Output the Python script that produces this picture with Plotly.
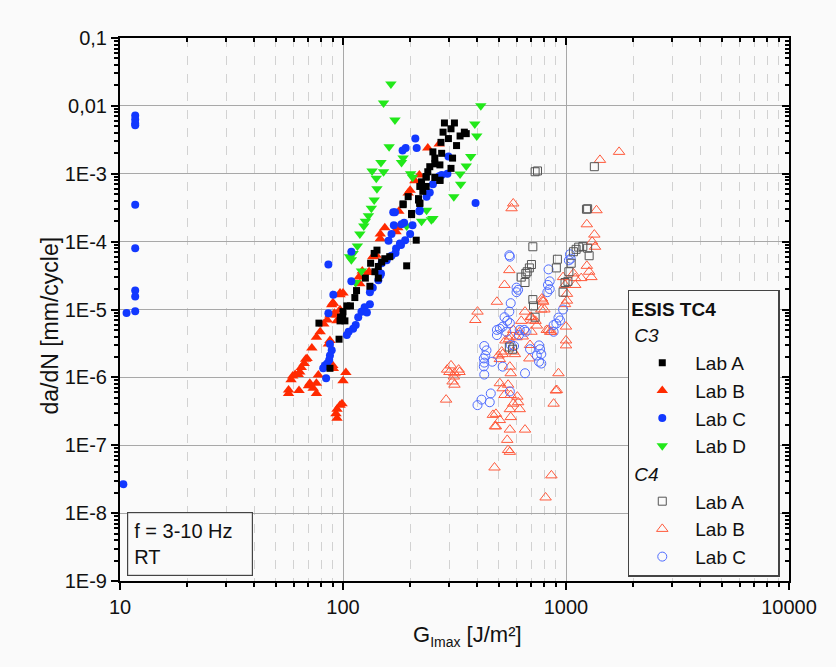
import plotly.graph_objects as go

# ---------------- data (G_Imax [J/m2], da/dN [mm/cycle]) ----------------
c3_labA_G = [285, 316, 305, 281, 350, 357, 335, 297, 275, 323, 253, 277, 258, 310, 258, 272, 245, 305,
             240, 236, 258, 272, 225, 221, 236, 196, 218, 221, 186, 203, 213, 193, 142, 138, 162, 154,
             149, 144, 133, 139, 144, 126, 132, 115, 113, 108, 104, 100, 97.5, 78, 96, 87.4, 99.7, 97,
             228, 218, 221, 203, 186, 236, 272, 102]
c3_labA_dadn = [5.6e-3, 5.6e-3, 4.6e-3, 4.1e-3, 4.1e-3, 3.9e-3, 3.6e-3, 3.3e-3, 2.9e-3, 2.6e-3, 2.1e-3,
                2.0e-3, 1.7e-3, 1.7e-3, 1.4e-3, 1.35e-3, 1.27e-3, 1.2e-3, 1.07e-3, 9.1e-4, 8.8e-4, 8.0e-4,
                7.6e-4, 6.5e-4, 6.5e-4, 4.6e-4, 4.1e-4, 3.65e-4, 3.5e-4, 2.6e-4, 1.05e-4, 4.4e-5, 7.5e-5,
                6.7e-5, 6.0e-5, 5.6e-5, 5.0e-5, 4.3e-5, 4.8e-5, 3.6e-5, 2.9e-5, 2.9e-5, 2.2e-5, 1.9e-5,
                1.5e-5, 1.13e-5, 1.13e-5, 9.3e-6, 7.7e-6, 6.3e-6, 3.65e-6, 1.36e-6, 7.4e-6, 6.8e-6,
                5.5e-4, 4.3e-4, 3.7e-4, 2.5e-4, 3.6e-4, 8.9e-4, 8.0e-4, 6.8e-6]

c3_labB_G = [57, 57, 59.5, 58.5, 61, 63, 64, 65, 67, 68, 63.5, 70, 71, 73.5, 76, 76, 77.5, 72.5, 76, 79,
             82, 85, 87.4, 90.5, 94, 97, 97, 100, 87.4, 86, 90, 90.5, 103, 100, 97, 94, 93, 94, 99, 119,
             130, 137, 240, 270, 220, 210, 200, 196, 178, 154, 147, 147, 176, 173, 141, 136, 131, 122,
             118, 97, 90, 69, 91.5, 94, 89]
c3_labB_dadn = [5.8e-7, 6.5e-7, 1.05e-6, 9.2e-7, 1.1e-6, 1.1e-6, 1.2e-6, 1.4e-6, 1.6e-6, 1.85e-6, 6.4e-7,
                7.5e-7, 8.2e-7, 6.9e-7, 5.8e-7, 8.2e-7, 1.08e-6, 2.7e-6, 3.9e-6, 4.7e-6, 6.1e-6, 7.0e-6,
                8.3e-6, 1.24e-5, 8.3e-6, 9.9e-6, 1.65e-5, 1.75e-5, 3.5e-6, 3.1e-6, 1.5e-6, 1.35e-6,
                1.18e-6, 8.9e-7, 3.9e-7, 3.4e-7, 2.9e-7, 2.5e-7, 4.1e-7, 2.4e-5, 3.5e-5, 6.1e-5, 2.4e-3,
                2.75e-3, 9.6e-4, 7.9e-4, 5.7e-4, 5.2e-4, 2.8e-4, 1.6e-4, 1.3e-4, 1.1e-4, 1.6e-4, 1.4e-4,
                6.3e-5, 6.0e-5, 3.6e-5, 3.7e-5, 3.0e-5, 1.75e-5, 1.25e-5, 1.9e-6, 8.8e-6, 6.8e-6, 1.17e-5]

c3_labC_G = [11.7, 11.7, 11.7, 11.7, 11.7, 11.7, 11.7, 11.7, 10.7, 11.7, 10.35,
             211, 214, 191, 185, 297, 294, 277, 270, 253, 245, 237, 393, 220, 171, 205, 200, 188, 183,
             169, 165, 160, 182, 173, 172, 165, 157, 149, 148, 144, 136, 132, 125, 121, 117, 114, 111,
             106, 104, 109, 109, 86, 90.5, 86, 87.4, 89, 87.4, 86.7, 85, 83, 81.5, 84, 128, 190, 180,
             221, 168, 147, 132]
c3_labC_dadn = [7.2e-3, 6.3e-3, 5.5e-3, 5.2e-3, 3.5e-4, 8.0e-5, 1.9e-5, 1.56e-5, 8.9e-6, 9.4e-6, 2.67e-8,
                3.3e-3, 2.4e-3, 2.4e-3, 2.2e-3, 1.8e-3, 1.0e-3, 9.6e-4, 9.2e-4, 7.0e-4, 5.3e-4, 4.6e-4,
                3.7e-4, 2.8e-4, 2.7e-4, 1.75e-4, 1.3e-4, 1.9e-4, 1.8e-4, 1.75e-4, 1.3e-4, 1.03e-4, 8.9e-5,
                7.9e-5, 6.8e-5, 6.2e-5, 5.3e-5, 4.8e-5, 3.4e-5, 2.7e-5, 2.1e-5, 1.2e-5, 1.08e-5, 9.3e-6,
                7.7e-6, 5.9e-6, 5.2e-6, 4.7e-6, 4.2e-6, 7.1e-5, 2.6e-5, 4.6e-5, 1.65e-5, 8.8e-6, 3.1e-6,
                2.5e-6, 2.1e-6, 1.8e-6, 1.6e-6, 1.5e-6, 1.36e-6, 9.7e-7, 9.0e-6, 1.05e-4, 9.4e-5, 2.9e-4,
                2.7e-4, 3.2e-5, 1.8e-5]

c3_labD_G = [164, 152, 415, 171, 390, 398, 161, 374, 186, 183, 148, 357, 135, 152, 335, 201, 205, 141,
             337, 142, 314, 138, 134, 237, 130, 249, 126, 124, 225, 193, 119, 116, 111, 107, 109, 121,
             114, 253]
c3_labD_dadn = [2.1e-2, 1.1e-2, 1.0e-2, 6.2e-3, 5.4e-3, 3.6e-3, 2.5e-3, 1.8e-3, 1.7e-3, 1.47e-3, 1.47e-3,
                1.3e-3, 1.1e-3, 1.07e-3, 9.9e-4, 1.0e-3, 8.9e-4, 8.6e-4, 7.0e-4, 6.0e-4, 4.6e-4, 4.1e-4,
                3.1e-4, 2.9e-4, 2.4e-4, 2.1e-4, 2.0e-4, 1.7e-4, 2.0e-4, 1.7e-4, 1.3e-4, 8.6e-5, 6.7e-5,
                6.0e-5, 5.4e-5, 3.7e-5, 2.5e-5, 2.2e-4]

c4_labA_G = [727, 745, 1340, 1235, 1250, 710, 700, 685, 670, 660, 630, 655, 710, 715, 727, 557, 576,
             915, 905, 1030, 1055, 970, 1020, 1080, 1110, 1140, 1190, 1250, 1270, 990]
c4_labA_dadn = [1.07e-3, 1.1e-3, 1.27e-3, 3.0e-4, 3.05e-4, 8.4e-5, 4.6e-5, 4.1e-5, 3.6e-5, 3.4e-5, 3.0e-5,
                2.5e-5, 1.4e-5, 1.13e-5, 7.7e-6, 2.8e-6, 2.6e-6, 5.5e-5, 4.1e-5, 3.6e-5, 4.8e-5, 1.8e-5,
                2.6e-5, 7.1e-5, 7.7e-5, 8.3e-5, 8.5e-5, 8.0e-5, 6.2e-5, 2.5e-5]

c4_labB_G = [305, 293, 300, 316, 330, 333, 314, 310, 316, 290,
             580, 570, 1730, 1420, 1370, 1240, 1340, 1310, 1350, 1240, 1270, 1300, 1080, 1100, 1170,
             1100, 970, 990, 1010, 1010, 990, 1000, 1000, 1000, 925, 900, 880, 860, 810, 478, 557, 530,
             490, 401, 392,
             655, 630, 700, 730, 780, 790, 775, 640, 690, 820, 850, 685, 560, 580, 555, 520, 505, 590,
             560, 565, 505, 520, 550, 530, 565, 580, 605, 610, 620, 560, 565, 470, 485, 480, 485, 505,
             560, 655, 545, 550, 560, 910, 785, 800, 695, 710, 740, 700, 620, 600, 535, 515, 580, 835,
             860, 498]
c4_labB_dadn = [1.5e-6, 1.3e-6, 1.2e-6, 1.15e-6, 1.3e-6, 1.2e-6, 1.03e-6, 8.7e-7, 7.8e-7, 4.7e-7,
                3.65e-4, 3.1e-4, 2.1e-3, 1.6e-3, 2.9e-4, 1.8e-4, 1.27e-4, 1.0e-4, 8.4e-5, 4.4e-5, 3.6e-5,
                3.0e-5, 3.4e-5, 2.9e-5, 2.9e-5, 2.3e-5, 3.0e-5, 2.3e-5, 1.7e-5, 1.35e-5, 1.2e-5, 5.6e-6,
                3.5e-6, 2.96e-6, 1.15e-6, 6.4e-7, 4.1e-7, 3.6e-8, 1.7e-8, 4.7e-8, 3.8e-5, 2.3e-5, 1.3e-5,
                9.3e-6, 7.0e-6,
                9.3e-6, 6.8e-6, 7.7e-6, 6.8e-6, 1.45e-5, 1.3e-5, 1.0e-5, 4.0e-6, 3.0e-6, 5.0e-6, 4.7e-6,
                1.9e-6, 4.0e-6, 5.0e-6, 3.65e-6, 2.2e-6, 1.86e-6, 2.2e-6, 1.44e-6, 1.15e-6, 8.2e-7,
                6.9e-7, 7.8e-7, 5.5e-7, 5.5e-7, 4.1e-7, 5.2e-7, 4.3e-7, 3.4e-7, 3.4e-7, 2.6e-7, 2.8e-7,
                2.9e-7, 1.9e-7, 1.9e-7, 2.35e-7, 1.7e-7, 1.7e-7, 1.2e-7, 8.5e-8, 8.0e-8, 6.5e-7, 1.35e-5,
                1.0e-5, 7.8e-6, 6.9e-6, 5.8e-6, 4.7e-6, 4.7e-6, 3.9e-6, 3.5e-6, 2.4e-6, 2.4e-6, 5.0e-6,
                4.7e-6, 2.1e-6]

c4_labC_G = [557, 560, 835, 1042, 1050, 1030, 600, 610, 600, 845, 830, 845, 825, 565, 557, 530, 545, 560,
             520, 505, 490, 490, 540, 620, 650, 615, 660, 925, 940, 905, 880, 880, 970, 757, 765, 775,
             690, 740, 757, 775, 430, 440, 435, 428, 430, 428, 430, 467, 520, 585, 655, 460, 560, 418,
             401, 455, 565]
c4_labC_dadn = [6.3e-5, 6.0e-5, 3.9e-5, 6.5e-5, 5.6e-5, 5.3e-5, 2.1e-5, 1.95e-5, 1.8e-5, 2.6e-5, 2.3e-5,
                2.0e-5, 1.8e-5, 1.24e-5, 9.3e-6, 7.7e-6, 6.8e-6, 6.3e-6, 5.6e-6, 5.2e-6, 5.0e-6, 4.2e-6,
                4.7e-6, 5.0e-6, 5.0e-6, 4.2e-6, 4.7e-6, 7.6e-6, 6.9e-6, 6.2e-6, 5.9e-6, 4.7e-6, 1.0e-5,
                2.96e-6, 2.6e-6, 2.2e-6, 2.6e-6, 2.1e-6, 1.7e-6, 1.6e-6, 2.9e-6, 2.5e-6, 2.1e-6, 1.9e-6,
                1.65e-6, 1.45e-6, 1.1e-6, 1.7e-6, 1.44e-6, 2.9e-6, 1.15e-6, 5.8e-7, 6.2e-7, 4.7e-7,
                3.9e-7, 4.3e-7, 3.0e-6]

y_tickvals = [1e-9, 1e-8, 1e-7, 1e-6, 1e-5, 1e-4, 1e-3, 1e-2, 1e-1]
y_ticktext = ["1E-9", "1E-8", "1E-7", "1E-6", "1E-5", "1E-4", "1E-3", "0,01", "0,1"]
x_tickvals = [10, 100, 1000, 10000]
x_ticktext = ["10", "100", "1000", "10000"]

FONT = "Arial, 'Liberation Sans', sans-serif"
RED = "#ff2a00"
BLUE = "#1238ff"
GREEN = "#22e81a"
PAD = "\u00a0" * 5   # widens the legend box like the reference

fig = go.Figure()

def add(x, y, name, group, gtitle, symbol, color, size, open_=False):
    if open_:
        marker = dict(symbol=symbol, size=size, color=color, line=dict(color=color, width=1))
    else:
        marker = dict(symbol=symbol, size=size, color=color, line=dict(width=0))
    fig.add_trace(go.Scatter(x=x, y=y, mode="markers", name=name + PAD, marker=marker,
                             legendgroup=group,
                             legendgrouptitle=dict(text=gtitle, font=dict(size=19, family=FONT)),
                             ))

add(c4_labB_G, c4_labB_dadn, "Lab B", "C4", "<i>C4</i>", "triangle-up-open", "#ff5a3c", 10, True)
add(c4_labC_G, c4_labC_dadn, "Lab C", "C4", "<i>C4</i>", "circle-open", "#4f6cff", 9, True)
add(c4_labA_G, c4_labA_dadn, "Lab A", "C4", "<i>C4</i>", "square-open", "#555555", 8, True)
add(c3_labB_G, c3_labB_dadn, "Lab B", "C3", "<i>C3</i>", "triangle-up", RED, 10)
add(c3_labD_G, c3_labD_dadn, "Lab D", "C3", "<i>C3</i>", "triangle-down", GREEN, 10)
add(c3_labC_G, c3_labC_dadn, "Lab C", "C3", "<i>C3</i>", "circle", BLUE, 8)
add(c3_labA_G, c3_labA_dadn, "Lab A", "C3", "<i>C3</i>", "square", "black", 7)

# legend order
order = {"C3": {"Lab A": 1, "Lab B": 2, "Lab C": 3, "Lab D": 4},
         "C4": {"Lab A": 6, "Lab B": 7, "Lab C": 8}}
for tr in fig.data:
    tr.legendrank = order[tr.legendgroup][tr.name.replace(PAD, "")]

# dummy trace for top/right mirror axes
fig.add_trace(go.Scatter(x=[None], y=[None], xaxis="x2", yaxis="y2", showlegend=False,
                         hoverinfo="skip"))

axis_common = dict(showline=True, linecolor="black", linewidth=2, ticks="outside",
                   tickcolor="black", tickwidth=1.5, ticklen=7,
                   tickfont=dict(size=20, family=FONT, color="#111"))

fig.update_layout(
    width=836, height=667,
    margin=dict(l=120, r=47, t=38, b=86),
    paper_bgcolor="#fafafa", plot_bgcolor="#fafafa",
    font=dict(family=FONT, color="#111"),
    xaxis=dict(type="log", range=[1, 4], tickvals=x_tickvals, ticktext=x_ticktext,
               showgrid=True, gridcolor="#a8a8a8", gridwidth=1.2, zeroline=False,
               minor=dict(ticks="outside", ticklen=4, tickcolor="black", dtick="D1",
                          showgrid=True, gridcolor="#d2d2d2", griddash="dash", gridwidth=1),
               **axis_common),
    yaxis=dict(type="log", range=[-9, -1], tickvals=y_tickvals, ticktext=y_ticktext,
               showgrid=True, gridcolor="#a8a8a8", gridwidth=1.2, zeroline=False,
               minor=dict(ticks="outside", ticklen=4, tickcolor="black", dtick="D1", showgrid=False),
               **axis_common),
    xaxis2=dict(type="log", range=[1, 4], overlaying="x", side="top", showline=True,
                linecolor="black", linewidth=2, ticks="inside", ticklen=7, tickwidth=1.5,
                tickcolor="black", tickvals=x_tickvals, showticklabels=False, showgrid=False,
                zeroline=False,
                minor=dict(ticks="inside", ticklen=4, tickcolor="black", dtick="D1", showgrid=False)),
    yaxis2=dict(type="log", range=[-9, -1], overlaying="y", side="right", showline=True,
                linecolor="black", linewidth=2, ticks="inside", ticklen=7, tickwidth=1.5,
                tickcolor="black", tickvals=y_tickvals, showticklabels=False, showgrid=False,
                zeroline=False,
                minor=dict(ticks="inside", ticklen=4, tickcolor="black", dtick="D1", showgrid=False)),
    legend=dict(x=0.759, y=0.536, xanchor="left", yanchor="top",
                bgcolor="#fafafa", bordercolor="#444", borderwidth=1.5,
                font=dict(size=19, family=FONT, color="#111"),
                title=dict(text="<b>ESIS TC4</b>", font=dict(size=19, family=FONT)),
                traceorder="grouped", tracegroupgap=0, itemwidth=56),
    showlegend=True,
)

# axis titles
fig.add_annotation(xref="paper", yref="paper", x=-0.105, y=0.47, xanchor="center", yanchor="middle",
                   text="da/dN [mm/cycle]", textangle=-90, showarrow=False,
                   font=dict(size=23, family=FONT, color="#111"))
fig.add_annotation(xref="paper", yref="paper", x=0.52, y=-0.101, xanchor="center", yanchor="middle",
                   text="G<sub><span style='font-size:14px'>Imax</span></sub> [J/m²]", showarrow=False,
                   font=dict(size=22, family=FONT, color="#111"))

fig.add_annotation(xref="paper", yref="paper", x=0.0105, y=0.127, xanchor="left", yanchor="top",
                   text="f = 3-10 Hz<br>RT", align="left", showarrow=False,
                   font=dict(size=20, family=FONT, color="#111"),
                   bordercolor="#444", borderwidth=1.2, borderpad=6, bgcolor="#fafafa",
                   width=112, height=50)

fig.write_html("out.html")
